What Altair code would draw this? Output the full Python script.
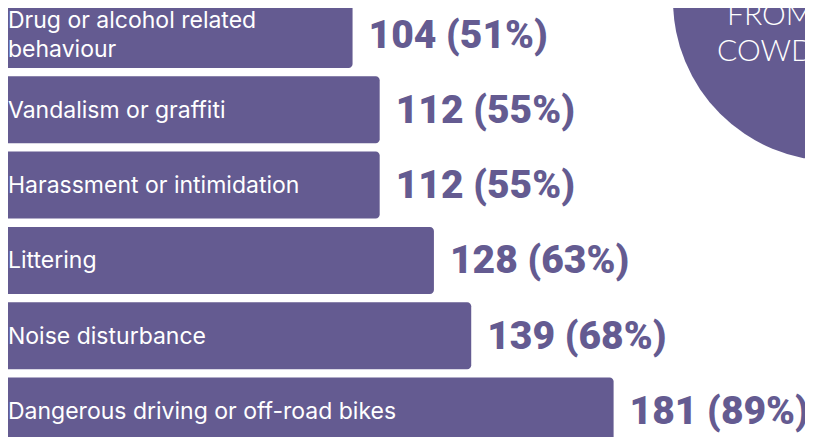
import altair as alt
import pandas as pd

categories = [
    "Drug or alcohol related\nbehaviour",
    "Vandalism or graffiti",
    "Harassment or intimidation",
    "Littering",
    "Noise disturbance",
    "Dangerous driving or off-road bikes",
]
counts = [104, 112, 112, 128, 139, 181]
percents = [51, 55, 55, 63, 68, 89]
circle_line1 = "FROM"
circle_line2 = "COWDENBEATH"

df = pd.DataFrame({
    "category": categories,
    "count": counts,
    "pct": percents,
    "rank": list(range(len(categories))),
})
df["value_label"] = [f"{c} ({p}%)" for c, p in zip(counts, percents)]

PURPLE = "#645b91"
W, H = 797, 429
STEP = 75.3          # px per row
LINE_H = 29          # px per text line

x_scale = alt.Scale(domain=[2.36, 237.46], nice=False, zero=False)
y_scale = alt.Scale(domain=[-0.352, -0.352 + H / STEP], nice=False, zero=False, reverse=True)

base = alt.Chart(df).transform_calculate(
    y_top="datum.rank - 0.445",
    y_bot="datum.rank + 0.445",
    x_start="0",
    x_label="2.36",
    y_text=f"datum.rank - (split(datum.category, '\\n').length - 1) * {LINE_H / 2 / STEP}",
)

bars = base.mark_bar(color=PURPLE, cornerRadius=4, clip=True).encode(
    x=alt.X("x_start:Q", scale=x_scale, axis=None),
    x2=alt.X2("count:Q"),
    y=alt.Y("y_top:Q", scale=y_scale, axis=None),
    y2="y_bot:Q",
)

cat_text = base.mark_text(
    align="left", baseline="middle", color="white", font="Inter",
    fontSize=23, dx=0, dy=1, lineBreak="\n", lineHeight=LINE_H, clip=True,
).encode(
    x=alt.X("x_label:Q", scale=x_scale),
    y=alt.Y("y_text:Q", scale=y_scale),
    text="category:N",
)

val_text = base.mark_text(
    align="left", baseline="middle", color=PURPLE, font="Roboto",
    fontWeight=900, fontSize=39, dx=16, dy=1, clip=True,
).encode(
    x=alt.X("count:Q", scale=x_scale),
    y=alt.Y("rank:Q", scale=y_scale),
    text="value_label:N",
)

first = base.transform_filter("datum.rank == 0")

circle = first.mark_circle(color=PURPLE, opacity=1, clip=True).encode(
    x=alt.value(826), y=alt.value(-8), size=alt.value(103684),
)

circ_text1 = first.transform_calculate(t=f"'{circle_line1}'").mark_text(
    align="left", baseline="alphabetic", color="white", font="Lato",
    fontWeight=300, fontSize=30, clip=True,
).encode(x=alt.value(719), y=alt.value(17), text="t:N")

circ_text2 = first.transform_calculate(t=f"'{circle_line2}'").mark_text(
    align="left", baseline="alphabetic", color="white", font="Lato",
    fontWeight=300, fontSize=30, clip=True,
).encode(x=alt.value(709), y=alt.value(53), text="t:N")

chart = alt.layer(bars, cat_text, val_text, circle, circ_text1, circ_text2).properties(
    width=W, height=H, padding=0, autosize=alt.AutoSizeParams(type="none"),
).configure(background="white").configure_view(stroke=None, strokeWidth=0)

chart.save("out.html", embed_options={"renderer": "svg", "actions": False})
